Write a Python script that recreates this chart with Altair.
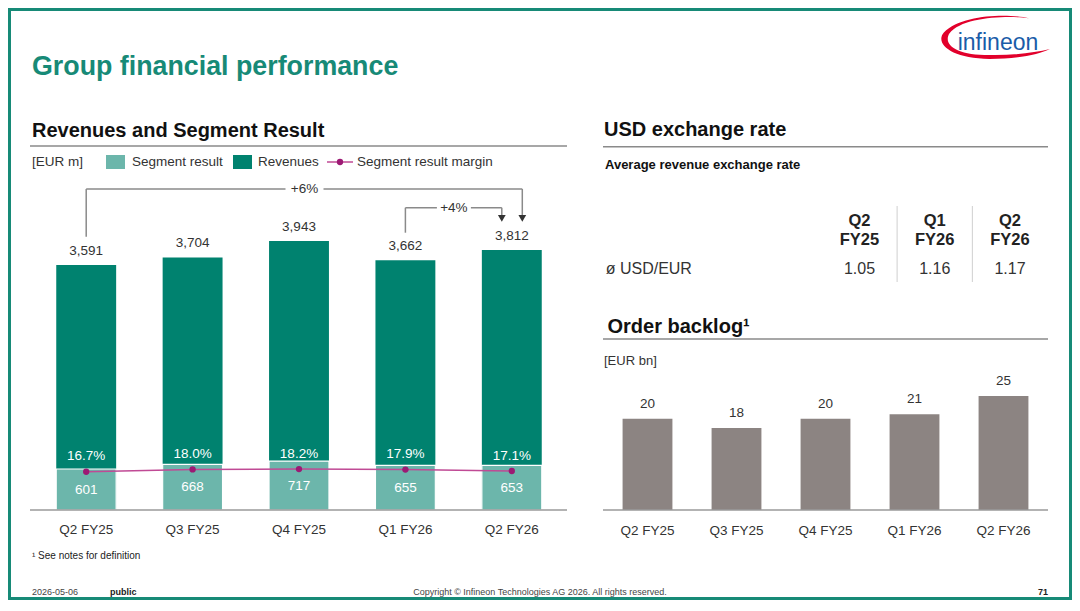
import altair as alt
import pandas as pd

# ---------------- data ----------------
quarters = ["Q2 FY25", "Q3 FY25", "Q4 FY25", "Q1 FY26", "Q2 FY26"]
revenues = [3591, 3704, 3943, 3662, 3812]
segment_result = [601, 668, 717, 655, 653]
segment_margin = [16.7, 18.0, 18.2, 17.9, 17.1]
backlog_bn = [20, 18, 20, 21, 25]

fx_periods = ["Q2 FY25", "Q1 FY26", "Q2 FY26"]
fx_head_1 = ["Q2", "Q1", "Q2"]
fx_head_2 = ["FY25", "FY26", "FY26"]
fx_rates = [1.05, 1.16, 1.17]

growth_from = ["Q2 FY25", "Q1 FY26"]
growth_to = ["Q2 FY26", "Q2 FY26"]
growth_text = ["+6%", "+4%"]

# ---------------- style ----------------
FONT = "Liberation Sans, Arial, Helvetica, sans-serif"
TEAL_DARK = "#00826f"
TEAL_LIGHT = "#6cb6ab"
TEAL_TITLE = "#178a77"
MAGENTA = "#9c1a74"
MAGENTA_LINE = "#c04a95"
GREY_BAR = "#8c8482"
TXT = "#333333"
RULE = "#8a8a8a"

W, H = 1064, 592
OFF = 8


def px(v):
    return v - OFF


one = pd.DataFrame({"k": [0]})


def label(text, x, y, size, color=TXT, weight="normal", align="left", baseline="alphabetic", font=FONT):
    return alt.Chart(pd.DataFrame({"t": [text]})).mark_text(
        align=align, baseline=baseline, fontSize=size, fontWeight=weight, color=color, font=font
    ).encode(x=alt.value(px(x)), y=alt.value(px(y)), text="t:N")


def hline(x1, x2, y, color=RULE, width=1.5):
    return alt.Chart(one).mark_rule(color=color, strokeWidth=width).encode(
        x=alt.value(px(x1)), x2=alt.value(px(x2)), y=alt.value(px(y)))


def box(x1, x2, y1, y2, fill):
    return alt.Chart(one).mark_rect(color=fill).encode(
        x=alt.value(px(x1)), x2=alt.value(px(x2)), y=alt.value(px(y1)), y2=alt.value(px(y2)))


layers = []

# slide frame
layers.append(alt.Chart(one).mark_rect(fillOpacity=0, stroke=TEAL_TITLE, strokeWidth=3).encode(
    x=alt.value(1.5), x2=alt.value(W - 1.5), y=alt.value(1.5), y2=alt.value(H - 1.5)))

# title and logo
layers.append(label("Group financial performance", 32, 74.5, 26.8, color=TEAL_TITLE, weight="bold"))
swoosh = ("M0.62,-0.36 C0.3,-0.44 -0.6,-0.45 -0.93,-0.1 C-1.1,0.1 -0.8,0.38 -0.1,0.38 "
          "C0.4,0.38 0.8,0.3 1.0,0.2 C0.7,0.27 0.3,0.32 -0.1,0.31 C-0.7,0.31 -0.95,0.12 -0.83,-0.08 "
          "C-0.6,-0.38 0.2,-0.41 0.62,-0.36 Z")
layers.append(alt.Chart(one).mark_point(shape=swoosh, size=12100, filled=True, color="#e2002b",
                                        opacity=1, strokeWidth=0).encode(
    x=alt.value(px(995)), y=alt.value(px(38))))
layers.append(label("infineon", 998, 50, 23, color="#1a5ca8", align="center"))

# ---------------- left panel: revenues & segment result ----------------
layers.append(label("Revenues and Segment Result", 32, 136.7, 20, color="#111111", weight="bold"))
layers.append(hline(30, 567, 146))
layers.append(label("[EUR m]", 32, 162, 13.5, baseline="middle"))
layers.append(box(106, 125, 155, 169, TEAL_LIGHT))
layers.append(label("Segment result", 132, 162, 13.5, baseline="middle"))
layers.append(box(233, 252, 155, 169, TEAL_DARK))
layers.append(label("Revenues", 258, 162, 13.5, baseline="middle"))
layers.append(hline(327, 353, 162, color=MAGENTA_LINE, width=1.5))
layers.append(alt.Chart(one).mark_point(filled=True, size=40, color=MAGENTA, opacity=1).encode(
    x=alt.value(px(340)), y=alt.value(px(162))))
layers.append(label("Segment result margin", 357, 162, 13.5, baseline="middle"))

rev = pd.DataFrame({"quarter": quarters, "revenue": revenues,
                    "segment": segment_result, "margin": segment_margin})
base_l = alt.Chart(rev)


def SCALE_L():
    return alt.Scale(domain=quarters, range=[px(33), px(565)], paddingInner=0.437, paddingOuter=0.2185)


X_L = alt.X("quarter:N", axis=None, scale=SCALE_L())


def Y_REV(field):
    return alt.Y(field, type="quantitative", axis=None,
                 scale=alt.Scale(domain=[0, 5000], range=[px(510), px(510 - 341)], nice=False))


Y_M = alt.Y("margin:Q", axis=None, scale=alt.Scale(domain=[0, 30], range=[px(501.8), px(447.8)], nice=False))

layers.append(base_l.mark_bar(color=TEAL_DARK).encode(x=X_L, y=Y_REV("revenue")))
layers.append(base_l.mark_bar(color=TEAL_LIGHT, stroke="white", strokeWidth=1.2).encode(x=X_L, y=Y_REV("segment")))
layers.append(base_l.mark_text(dy=-14.5, fontSize=13.5, color=TXT, font=FONT, baseline="middle").encode(
    x=X_L, y=Y_REV("revenue"), text=alt.Text("revenue:Q", format=",")))
layers.append(base_l.transform_calculate(mid="datum.segment / 2").mark_text(
    fontSize=13.5, color="white", font=FONT, baseline="middle").encode(
    x=X_L, y=Y_REV("mid"), text=alt.Text("segment:Q", format=",")))
layers.append(base_l.mark_line(color=MAGENTA_LINE, strokeWidth=1.5).encode(x=X_L, y=Y_M))
layers.append(base_l.mark_point(filled=True, size=40, color=MAGENTA, opacity=1).encode(x=X_L, y=Y_M))
layers.append(base_l.transform_calculate(ml="format(datum.margin, '.1f') + '%'").mark_text(
    dy=-15.5, fontSize=13.5, color="white", font=FONT, baseline="middle").encode(
    x=X_L, y=Y_M, text="ml:N"))
layers.append(hline(30, 567, 510, color="#9a9a9a", width=1.5))
layers.append(base_l.mark_text(fontSize=13.5, color=TXT, font=FONT, baseline="middle").encode(
    x=X_L, y=alt.value(px(529.5)), text="quarter:N"))


# growth brackets
def bracket(i, to_off, y_start, y_top, mid_cat, mid_off, gap):
    d = alt.Chart(pd.DataFrame({"frm": [growth_from[i]], "to": [growth_to[i]], "txt": [growth_text[i]]}))
    Xf = alt.X("frm:N", axis=None, scale=SCALE_L())
    Xt = alt.X("to:N", axis=None, scale=SCALE_L())
    m = alt.Chart(pd.DataFrame({"c": [mid_cat], "txt": [growth_text[i]]}))
    Xm = alt.X("c:N", axis=None, scale=SCALE_L())
    out = [
        d.mark_rule(color=RULE, strokeWidth=1.5).encode(x=Xf, y=alt.value(px(y_start)), y2=alt.value(px(y_top))),
        d.mark_rule(color=RULE, strokeWidth=1.5, x2Offset=to_off).encode(x=Xf, x2="to:N", y=alt.value(px(y_top))),
        d.mark_rule(color=RULE, strokeWidth=1.5, xOffset=to_off).encode(x=Xt, y=alt.value(px(y_top)), y2=alt.value(px(218))),
        d.mark_point(shape="triangle-down", size=60, filled=True, color="#333333", opacity=1, xOffset=to_off).encode(
            x=Xt, y=alt.value(px(218.3))),
        m.mark_point(shape="M-1,-0.3H1V0.3H-1Z", size=gap * gap, filled=True, color="white", opacity=1,
                     strokeWidth=0, xOffset=mid_off).encode(x=Xm, y=alt.value(px(y_top))),
        m.mark_text(fontSize=13.5, color=TXT, font=FONT, baseline="middle", xOffset=mid_off).encode(
            x=Xm, y=alt.value(px(y_top)), text="txt:N"),
    ]
    return out


layers += bracket(0, 10.5, 236.7, 189, "Q4 FY25", 5.5, 38)
layers += bracket(1, -10, 232.7, 207.7, "Q1 FY26", 48.5, 34)

# ---------------- right panel: USD exchange rate ----------------
layers.append(label("USD exchange rate", 604, 136.2, 20, color="#111111", weight="bold"))
layers.append(hline(603, 1048, 146.7))
layers.append(label("Average revenue exchange rate", 605, 169, 13, color="#111111", weight="bold"))

fx = pd.DataFrame({"period": fx_periods, "h1": fx_head_1, "h2": fx_head_2, "rate": fx_rates})
base_t = alt.Chart(fx)
X_T = alt.X("period:N", axis=None,
            scale=alt.Scale(type="point", domain=fx_periods, range=[px(859.5), px(1010)], padding=0))
layers.append(base_t.mark_text(fontSize=16.5, fontWeight="bold", color="#222222", font=FONT, baseline="middle").encode(
    x=X_T, y=alt.value(px(220.7)), text="h1:N"))
layers.append(base_t.mark_text(fontSize=16.5, fontWeight="bold", color="#222222", font=FONT, baseline="middle").encode(
    x=X_T, y=alt.value(px(240.2)), text="h2:N"))
layers.append(base_t.mark_text(fontSize=16, color=TXT, font=FONT, baseline="middle").encode(
    x=X_T, y=alt.value(px(269.3)), text=alt.Text("rate:Q", format=".2f")))
layers.append(base_t.transform_filter("datum.period != 'Q2 FY26'").mark_rule(
    color="#cfcfcf", strokeWidth=1, xOffset=37.6).encode(x=X_T, y=alt.value(px(206)), y2=alt.value(px(282))))
layers.append(label("ø USD/EUR", 605.7, 269.3, 16, baseline="middle"))

# ---------------- right panel: order backlog ----------------
layers.append(label("Order backlog¹", 607.5, 332.7, 20, color="#111111", weight="bold"))
layers.append(hline(603, 1048, 339))
layers.append(label("[EUR bn]", 604, 360.7, 13, baseline="middle"))

bl = pd.DataFrame({"quarter": quarters, "backlog": backlog_bn})
base_r = alt.Chart(bl)
X_R = alt.X("quarter:N", axis=None,
            scale=alt.Scale(domain=quarters, range=[px(603), px(1048)], paddingInner=0.44, paddingOuter=0.22))
Y_B = alt.Y("backlog:Q", axis=None,
            scale=alt.Scale(domain=[0, 30], range=[px(510), px(510 - 30 * 4.56)], nice=False))
layers.append(base_r.mark_bar(color=GREY_BAR).encode(x=X_R, y=Y_B))
layers.append(base_r.mark_text(dy=-15, fontSize=13.5, color=TXT, font=FONT, baseline="middle").encode(
    x=X_R, y=Y_B, text="backlog:Q"))
layers.append(hline(603, 1048, 510, color="#9a9a9a", width=1.5))
layers.append(base_r.mark_text(fontSize=13.5, color=TXT, font=FONT, baseline="middle").encode(
    x=X_R, y=alt.value(px(531)), text="quarter:N"))

# ---------------- footnote & footer ----------------
layers.append(label("¹ See notes for definition", 32, 556, 10, color="#222222", baseline="middle"))
layers.append(label("2026-05-06", 32, 591.5, 9, color="#444444", baseline="middle"))
layers.append(label("public", 110, 591.5, 9, color="#222222", weight="bold", baseline="middle"))
layers.append(label("Copyright © Infineon Technologies AG 2026. All rights reserved.", 540, 591.5, 9,
                    color="#444444", align="center", baseline="middle"))
layers.append(label("71", 1043, 591.5, 9, color="#222222", weight="bold", align="center", baseline="middle"))

chart = alt.layer(*layers).resolve_scale(x="independent", y="independent").properties(
    width=W, height=H, padding=0, autosize=alt.AutoSizeParams(type="none")
).configure_view(stroke=None)

chart.save("out.html", embed_options={"renderer": "svg", "actions": False})
